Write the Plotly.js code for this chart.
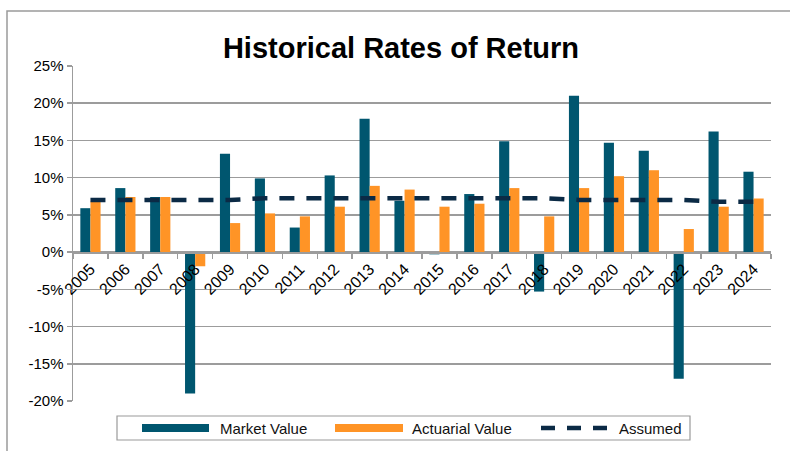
<!DOCTYPE html>
<html>
<head>
<meta charset="utf-8">
<script src="https://cdn.plot.ly/plotly-3.0.1.min.js"></script>
<style>html,body{margin:0;padding:0;background:#fff;}#chart{width:790px;height:451px;}</style>
</head>
<body>
<div id="chart"></div>
<script>
const years = ["2005","2006","2007","2008","2009","2010","2011","2012","2013","2014","2015","2016","2017","2018","2019","2020","2021","2022","2023","2024"];
const marketValue = [5.9, 8.6, 7.4, -19.0, 13.2, 9.9, 3.3, 10.3, 17.9, 6.9, -0.3, 7.8, 14.9, -5.3, 21.0, 14.7, 13.6, -17.0, 16.2, 10.8];
const actuarialValue = [6.8, 7.4, 7.4, -1.9, 3.9, 5.2, 4.8, 6.1, 8.9, 8.4, 6.1, 6.5, 8.6, 4.8, 8.6, 10.2, 11.0, 3.1, 6.1, 7.2];
const assumed = [7.0, 7.0, 7.0, 7.0, 7.0, 7.25, 7.25, 7.25, 7.25, 7.25, 7.25, 7.25, 7.25, 7.25, 7.0, 7.0, 7.0, 7.0, 6.75, 6.75];
const seriesNames = ["Market Value", "Actuarial Value", "Assumed"];
const yTickVals = [-20, -15, -10, -5, 0, 5, 10, 15, 20, 25];
const yTickText = ["-20%", "-15%", "-10%", "-5%", "0%", "5%", "10%", "15%", "20%", "25%"];
const chartTitle = "Historical Rates of Return";

const cMV = "#00566f", cAV = "#ff9426", cAs = "#0b2a45", grid = "#9c9c9c";
const yMin = -20, yMax = 25;

// pixel -> paper helpers (plot area: l=73, t=66, w=698, h=335)
const L = 73, T = 66, W = 698, H = 335;
const px = x => (x - L) / W;
const py = y => (T + H - y) / H;

const traces = [
  {type: "bar", x: years, y: marketValue, name: seriesNames[0], marker: {color: cMV}, showlegend: false},
  {type: "bar", x: years, y: actuarialValue, name: seriesNames[1], marker: {color: cAV}, showlegend: false},
  {type: "scatter", mode: "lines", x: years, y: assumed, name: seriesNames[2],
   line: {color: cAs, width: 4.5, dash: "15px,12px"}, showlegend: false}
];

const legY = py(428);
const shapes = [
  // outer chart frame (left and top edges)
  {type: "path", xref: "paper", yref: "paper", path: `M ${px(7)} ${py(460)} L ${px(7)} ${py(11)} L ${px(800)} ${py(11)}`,
   line: {color: "#9a9a9a", width: 1.5}},
  // legend box
  {type: "rect", xref: "paper", yref: "paper", x0: px(117), x1: px(690), y0: py(416), y1: py(440),
   line: {color: "#9a9a9a", width: 1.2}, fillcolor: "rgba(0,0,0,0)"},
  {type: "rect", xref: "paper", yref: "paper", x0: px(142), x1: px(209), y0: py(424), y1: py(432),
   line: {width: 0}, fillcolor: cMV},
  {type: "rect", xref: "paper", yref: "paper", x0: px(335), x1: px(403), y0: py(424), y1: py(432),
   line: {width: 0}, fillcolor: cAV},
  {type: "line", xref: "paper", yref: "paper", x0: px(541), x1: px(613), y0: legY, y1: legY,
   line: {color: cAs, width: 4.5, dash: "14px,12px"}}
];

const legFont = {family: "Liberation Sans, Arial, sans-serif", size: 15, color: "#111"};
const annotations = [
  {xref: "paper", yref: "paper", x: px(218), y: legY, xanchor: "left", yanchor: "middle", text: seriesNames[0], showarrow: false, font: legFont},
  {xref: "paper", yref: "paper", x: px(410), y: legY, xanchor: "left", yanchor: "middle", text: seriesNames[1], showarrow: false, font: legFont},
  {xref: "paper", yref: "paper", x: px(617), y: legY, xanchor: "left", yanchor: "middle", text: seriesNames[2], showarrow: false, font: legFont}
];

const yTickFont = {family: "Liberation Sans, Arial, sans-serif", size: 15, color: "#000"};
const xTickFont = {family: "Liberation Sans, Arial, sans-serif", size: 16, color: "#000"};
const layout = {
  width: 790, height: 451,
  margin: {l: L, r: 790 - L - W, t: T, b: 451 - T - H, pad: 0},
  paper_bgcolor: "#fff", plot_bgcolor: "#fff",
  title: {text: "<b>" + chartTitle + "</b>", xref: "container", yref: "container", x: 401 / 790, xanchor: "center",
          y: 1 - 48 / 451, yanchor: "middle",
          font: {family: "Liberation Sans, Arial, sans-serif", size: 29, color: "#000"}},
  barmode: "group", bargap: 0.42, bargroupgap: 0,
  showlegend: false,
  xaxis: {type: "category", anchor: "free", position: (0 - yMin) / (yMax - yMin),
          showgrid: false, showline: true, linecolor: grid, linewidth: 1.5,
          ticks: "outside", tickson: "boundaries", ticklen: 5, tickcolor: grid, tickwidth: 1.5,
          tickangle: -45, tickfont: xTickFont,
          fixedrange: true, zeroline: false},
  yaxis: {range: [yMin, yMax], tickvals: yTickVals, ticktext: yTickText,
          showgrid: true, gridcolor: grid, gridwidth: 1.5, zeroline: false,
          showline: true, linecolor: grid, linewidth: 1.5,
          ticks: "outside", ticklen: 5, tickcolor: grid, tickwidth: 1.5,
          tickfont: yTickFont},
  shapes: shapes,
  annotations: annotations
};

Plotly.newPlot("chart", traces, layout, {staticPlot: true, displayModeBar: false});
</script>
</body>
</html>
